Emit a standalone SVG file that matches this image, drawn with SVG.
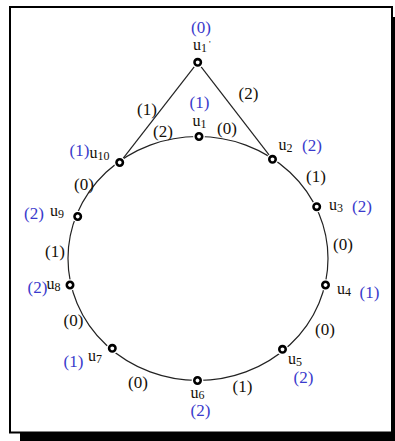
<svg xmlns="http://www.w3.org/2000/svg" width="395" height="441" viewBox="0 0 395 441">
<style>
.t{font-family:"Liberation Serif","Times New Roman",serif;font-size:17px}
.b{fill:#3a3acc}
.k{fill:#151008}
.n{font-family:"Liberation Serif","Times New Roman",serif;font-size:16px;fill:#151008}
.s{font-size:12px}
.p{font-size:9px}
.edge{fill:none;stroke:#222;stroke-width:1.2}
.halo{fill:#fff}
.ring{fill:#fff;stroke:#000;stroke-width:2.6}
</style>
<defs>
<g id="dot"><circle class="halo" r="5.8"/><circle class="ring" r="3.2"/></g>
</defs>
<rect x="20" y="17" width="390" height="440" fill="#000"/>
<rect x="10" y="7" width="382" height="425.5" fill="#fff" stroke="#000" stroke-width="2"/>
<g id="connectors">
<ellipse class="edge" cx="198" cy="258.5" rx="130" ry="122"/>
<line class="edge" x1="197.7" y1="62.3" x2="120" y2="162.3"/>
<line class="edge" x1="197.7" y1="62.3" x2="272.5" y2="159.3"/>
</g>
<g id="edge-labels" class="t k">
<text x="137" y="115">(1)</text>
<text x="238.5" y="98.5">(2)</text>
<text x="153" y="137">(2)</text>
<text x="217" y="133.5">(0)</text>
<text x="306" y="182">(1)</text>
<text x="333" y="250">(0)</text>
<text x="315" y="335">(0)</text>
<text x="232.5" y="392">(1)</text>
<text x="128" y="388">(0)</text>
<text x="63.5" y="326">(0)</text>
<text x="45" y="257">(1)</text>
<text x="74" y="190">(0)</text>
</g>
<g id="u1p">
<use href="#dot" x="197.7" y="62.3"/>
<text class="t b" x="191" y="32.5">(0)</text>
<text class="n" x="193" y="50">u<tspan class="s" dy="2">1</tspan><tspan class="p" dx="2" dy="-5">'</tspan></text>
</g>
<g id="u1">
<use href="#dot" x="199" y="136.5"/>
<text class="t b" x="189.5" y="108">(1)</text>
<text class="n" x="192.5" y="125.5">u<tspan class="s" dy="2">1</tspan></text>
</g>
<g id="u2">
<use href="#dot" x="272.5" y="159.3"/>
<text class="n" x="278.5" y="150">u<tspan class="s" dy="2">2</tspan></text>
<text class="t b" x="302" y="151">(2)</text>
</g>
<g id="u3">
<use href="#dot" x="316.7" y="206.7"/>
<text class="n" x="329" y="210">u<tspan class="s" dy="2">3</tspan></text>
<text class="t b" x="352" y="212">(2)</text>
</g>
<g id="u4">
<use href="#dot" x="325.5" y="285"/>
<text class="n" x="337" y="294">u<tspan class="s" dy="2">4</tspan></text>
<text class="t b" x="359.5" y="298">(1)</text>
</g>
<g id="u5">
<use href="#dot" x="282.5" y="349.3"/>
<text class="n" x="288" y="364">u<tspan class="s" dy="2">5</tspan></text>
<text class="t b" x="293.5" y="383">(2)</text>
</g>
<g id="u6">
<use href="#dot" x="197.5" y="380.5"/>
<text class="n" x="190.5" y="398">u<tspan class="s" dy="1">6</tspan></text>
<text class="t b" x="190.5" y="416">(2)</text>
</g>
<g id="u7">
<use href="#dot" x="112.3" y="348.3"/>
<text class="n" x="88" y="360.5">u<tspan class="s" dy="2">7</tspan></text>
<text class="t b" x="63.5" y="367">(1)</text>
</g>
<g id="u8">
<use href="#dot" x="70" y="285"/>
<text class="t b" x="27.5" y="293">(2)</text>
<text class="n" x="46.5" y="289">u<tspan class="s" dy="2">8</tspan></text>
</g>
<g id="u9">
<use href="#dot" x="77.7" y="216.5"/>
<text class="t b" x="24" y="218.5">(2)</text>
<text class="n" x="50" y="215.5">u<tspan class="s" dy="2">9</tspan></text>
</g>
<g id="u10">
<use href="#dot" x="119.7" y="162.5"/>
<text class="t b" x="69.5" y="156">(1)</text>
<text class="n" x="89.5" y="157.5">u<tspan class="s" dy="2">10</tspan></text>
</g>
</svg>
